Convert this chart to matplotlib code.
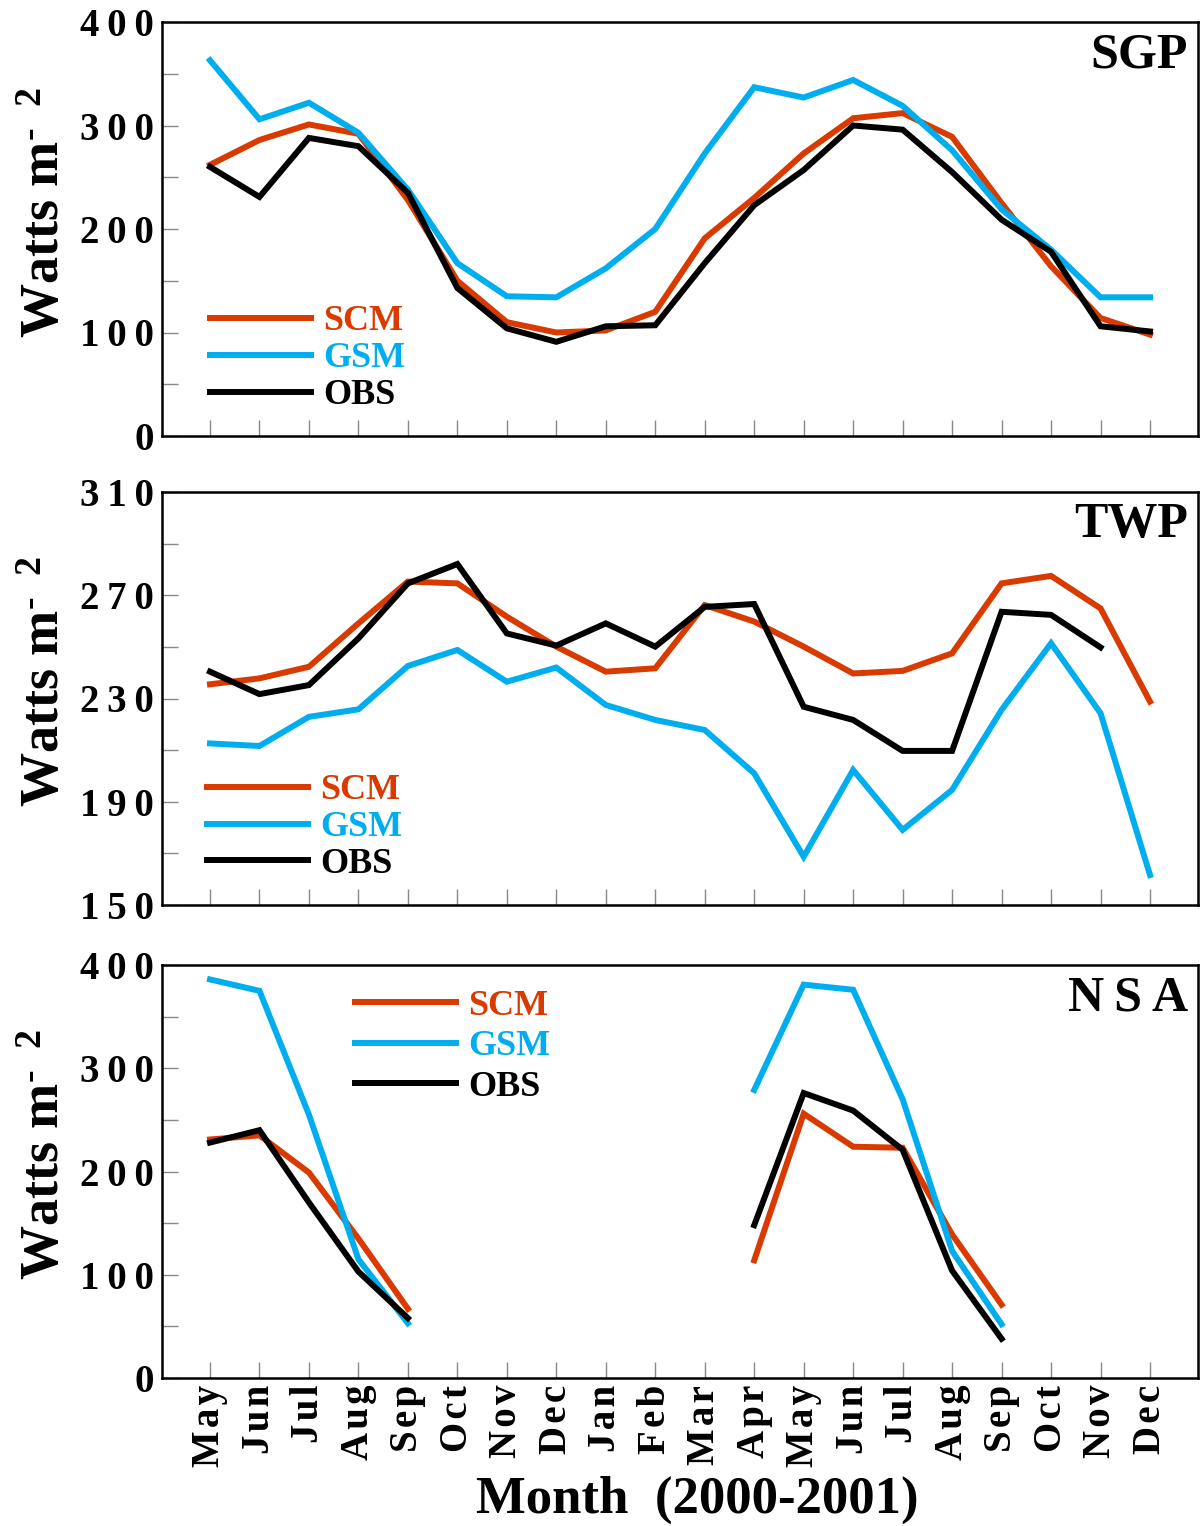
import numpy as np
import matplotlib
matplotlib.use("Agg")
import matplotlib.pyplot as plt

plt.rcParams['font.family'] = ['Liberation Serif', 'DejaVu Serif']
plt.rcParams['font.weight'] = 'bold'
plt.rcParams['mathtext.fontset'] = 'custom'
plt.rcParams['mathtext.rm'] = 'Liberation Serif:bold'
plt.rcParams['mathtext.bf'] = 'Liberation Serif:bold'
plt.rcParams['mathtext.it'] = 'Liberation Serif:bold'

nan = np.nan
months = ['May', 'Jun', 'Jul', 'Aug', 'Sep', 'Oct', 'Nov', 'Dec', 'Jan', 'Feb',
          'Mar', 'Apr', 'May', 'Jun', 'Jul', 'Aug', 'Sep', 'Oct', 'Nov', 'Dec']

# SGP
sgp_scm = [262, 286, 301, 292, 228, 150, 110, 100, 102, 120, 191, 230, 273, 307, 312, 289, 225, 164, 114, 98]
sgp_gsm = [363, 306, 322, 293, 238, 167, 135, 134, 162, 200, 273, 337, 327, 344, 319, 276, 219, 180, 134, 134]
sgp_obs = [260, 231, 288, 280, 235, 143, 104, 91, 106, 107, 167, 223, 257, 300, 296, 255, 209, 178, 106, 101]

# TWP
twp_scm = [235.5, 237.8, 242.3, 259.1, 275.3, 274.6, 261.7, 250.1, 240.4, 241.7,
           266.2, 259.8, 250.1, 239.7, 240.7, 247.5, 274.6, 277.5, 264.9, 228.8]
twp_gsm = [212.6, 211.6, 222.9, 225.8, 242.6, 248.8, 236.5, 242.0, 227.5, 221.7,
           217.8, 201.0, 168.7, 202.3, 179.1, 194.6, 225.6, 251.4, 224.3, 161.6]
twp_obs = [240.4, 231.7, 235.2, 253.3, 274.6, 282.1, 255.2, 250.5, 259.1, 250.1,
           265.5, 266.6, 226.8, 221.7, 209.7, 209.7, 263.6, 262.4, 249.8, nan]

# NSA (no data in winter)
nsa_scm = [231, 235, 199, 135, 67, nan, nan, nan, nan, nan,
           nan, 114, 256, 224, 223, 139, 71, nan, nan, nan]
nsa_gsm = [386, 375, 255, 115, 53, nan, nan, nan, nan, nan,
           nan, 279, 381, 376, 270, 123, 52, nan, nan, nan]
nsa_obs = [228, 240, 170, 103, 58, nan, nan, nan, nan, nan,
           nan, 148, 276, 259, 221, 104, 38, nan, nan, nan]

C_SCM = '#D93A00'
C_GSM = '#00AEEF'
C_OBS = '#000000'

def sp(s, gap='\u200a'):
    return gap.join(s)

x = np.arange(len(months))

fig = plt.figure(figsize=(12.01, 15.26), dpi=100)
L, R = 162 / 1201, 1198 / 1201
H = 1526
boxes = [(22, 436), (492, 905), (965, 1378)]
axes = [fig.add_axes([L, 1 - b / H, R - L, (b - t) / H]) for t, b in boxes]

panels = [
    ('SGP', sgp_scm, sgp_gsm, sgp_obs, (0, 400), 50, [0, 100, 200, 300, 400], (0.046, 0.316), 0.1),
    ('TWP', twp_scm, twp_gsm, twp_obs, (150, 310), 20, [150, 190, 230, 270, 310], (0.043, 0.317), 0.1),
    (sp('NSA', '\u2009'), nsa_scm, nsa_gsm, nsa_obs, (0, 400), 50, [0, 100, 200, 300, 400], (0.186, 0.941), 0.2),
]

for ax, (name, scm, gsm, obs, ylim, tstep, labs, legpos, lsp) in zip(axes, panels):
    ax.plot(x, scm, color=C_SCM, lw=4.3, label='SCM', solid_joinstyle='miter')
    ax.plot(x, gsm, color=C_GSM, lw=4.3, label='GSM', solid_joinstyle='miter')
    ax.plot(x, obs, color=C_OBS, lw=4.3, label='OBS', solid_joinstyle='miter')
    ax.set_xlim(-0.97, 19.97)
    ax.set_ylim(*ylim)
    yt = np.arange(ylim[0], ylim[1] + 1, tstep)
    ax.set_yticks(yt)
    ax.set_yticklabels([sp(str(v), '\u2009') if v in labs else '' for v in yt])
    ax.set_xticks(x)
    ax.tick_params(axis='both', direction='in', length=11.5, width=1.0, color='#888888',
                   labelsize=28, pad=5)
    ax.tick_params(axis='y', pad=6)
    for s in ax.spines.values():
        s.set_linewidth(1.8)
    ax.set_ylabel('Watts m$^{\u2010\\ \\ 2}$', fontsize=39, fontweight='bold')
    ax.yaxis.set_label_coords(-0.088, 0.54)
    ax.text(0.99, 0.975, name, transform=ax.transAxes, ha='right', va='top',
            fontsize=36, fontweight='bold')
    ax.legend(loc='upper left', bbox_to_anchor=legpos, frameon=False,
              handlelength=2.8, handletextpad=0.35, labelspacing=lsp, borderpad=0,
              borderaxespad=0, labelcolor='linecolor',
              prop={'weight': 'bold', 'size': 26})

for ax in axes[:2]:
    ax.set_xticklabels([])
axes[2].set_xticklabels([sp(m) for m in months], rotation=90, fontsize=28)

fig.text(697 / 1201, 1 - 1500 / H, 'Month  (2000-2001)', ha='center', va='center',
         fontsize=38, fontweight='bold')

fig.savefig('out.png', dpi=100)
